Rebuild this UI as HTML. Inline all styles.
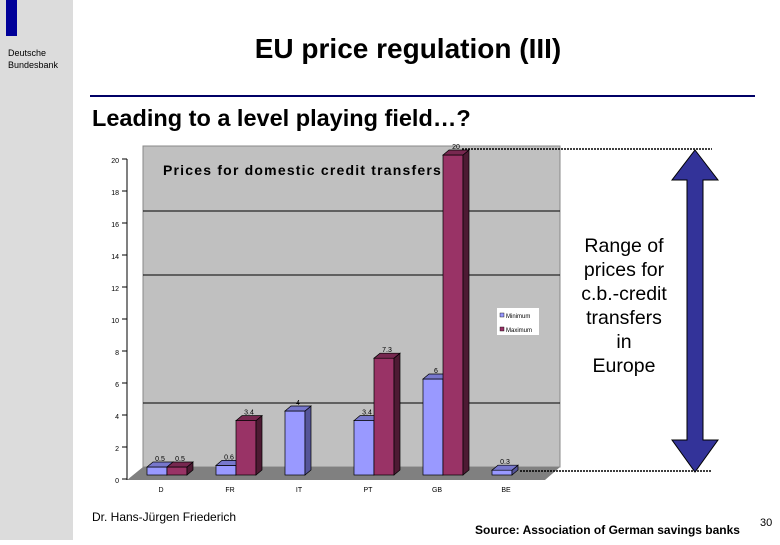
<!DOCTYPE html>
<html><head><meta charset="utf-8"><style>
body{margin:0;width:780px;height:540px;overflow:hidden;background:#fff;font-family:"Liberation Sans",sans-serif}
</style></head><body>
<svg width="780" height="540" viewBox="0 0 780 540" xmlns="http://www.w3.org/2000/svg" font-family="Liberation Sans, sans-serif">
<rect x="0" y="0" width="73" height="540" fill="#dcdcdc"/>
<rect x="6" y="0" width="11" height="36" fill="#000099"/>
<text font-size="9" fill="#000"><tspan x="8" y="56">Deutsche</tspan><tspan x="8" y="68">Bundesbank</tspan></text>
<text x="408" y="58" font-size="28" font-weight="bold" text-anchor="middle">EU price regulation (III)</text>
<line x1="90" y1="96" x2="755" y2="96" stroke="#000066" stroke-width="2"/>
<text x="92" y="126" font-size="23.5" font-weight="bold">Leading to a level playing field…?</text>
<g id="chart"></g>
<line x1="462" y1="149" x2="712" y2="149" stroke="#000" stroke-width="1.5" stroke-dasharray="2,1"/>
<line x1="520" y1="471" x2="712" y2="471" stroke="#000" stroke-width="1.5" stroke-dasharray="2,1"/>
<path d="M695,150 L718,180 L703,180 L703,440 L718,440 L695,472 L672,440 L687,440 L687,180 L672,180 Z" fill="#333399" stroke="#000" stroke-width="1"/>
<text font-size="19.5" text-anchor="middle"><tspan x="624" y="252">Range of</tspan><tspan x="624" y="276">prices for</tspan><tspan x="624" y="300">c.b.-credit</tspan><tspan x="624" y="324">transfers</tspan><tspan x="624" y="348">in</tspan><tspan x="624" y="372">Europe</tspan></text>
<text x="92" y="521" font-size="12">Dr. Hans-Jürgen Friederich</text>
<text x="475" y="534" font-size="12" font-weight="bold">Source: Association of German savings banks</text>
<text x="760" y="526" font-size="11">30</text>
</svg>
<script>
const categories=["D","FR","IT","PT","GB","BE"];
const minValues=[0.5,0.6,4,3.4,6,0.3];
const maxValues=[0.5,3.4,null,7.3,20,null];
const yTicks=[0,2,4,6,8,10,12,14,16,18,20];
const NS="http://www.w3.org/2000/svg";
const g=document.getElementById('chart');
const y0=475,ppu=16,x0=147,step=69,bw=20,dx=6,dy=5;
const y=v=>y0-v*ppu;
function el(t,a,p){const e=document.createElementNS(NS,t);for(const k in a)e.setAttribute(k,a[k]);(p||g).appendChild(e);return e;}
let e;
e=el('polygon',{points:"143,146 560,146 560,467 143,467",fill:"#c0c0c0",stroke:"#888"});

e=el('polygon',{points:"143,467 560,467 545,480 127,480",fill:"#808080"});

e=el('line',{x1:127,y1:159,x2:127,y2:480,stroke:"#000"});

[4,12,16].forEach(v=>{e=el('line',{x1:143,y1:y(v)-8,x2:560,y2:y(v)-8,stroke:"#000"});
});
yTicks.forEach(v=>{e=el('text',{x:119,y:y(v)+8,"font-size":7,"text-anchor":"end"});e.textContent=v;

e=el('line',{x1:122,y1:y(v)+4,x2:127,y2:y(v)+4,stroke:"#000"});
});
function bar(x,v,front,side,top,name){
 const t=y(v);
 e=el('rect',{x:x,y:t,width:bw,height:y0-t,fill:front,stroke:"#000","stroke-width":0.7});
 
 e=el('polygon',{points:`${x+bw},${t} ${x+bw+dx},${t-dy} ${x+bw+dx},${y0-dy} ${x+bw},${y0}`,fill:side,stroke:"#000","stroke-width":0.7});
 
 e=el('polygon',{points:`${x},${t} ${x+dx},${t-dy} ${x+bw+dx},${t-dy} ${x+bw},${t}`,fill:top,stroke:"#000","stroke-width":0.7});
 
 e=el('text',{x:x+bw/2+3,y:t-6,"font-size":7,"text-anchor":"middle"});e.textContent=v;
 
}
categories.forEach((c,i)=>{
 const x=x0+i*step;
 if(minValues[i]!=null)bar(x,minValues[i],"#9999ff","#555599","#7777cc",'bar-min-'+c.toLowerCase());
 if(maxValues[i]!=null)bar(x+bw,maxValues[i],"#993366","#4d1a33","#772850",'bar-max-'+c.toLowerCase());
 e=el('text',{x:x+bw-6,y:492,"font-size":7,"text-anchor":"middle"});e.textContent=c;
 
});
e=el('text',{x:163,y:175,"font-size":14,"font-weight":"bold","letter-spacing":"1.2"});e.textContent="Prices for domestic credit transfers";

e=el('rect',{x:497,y:308,width:42,height:27,fill:"#fff"});

e=el('rect',{x:500,y:313,width:4,height:4,fill:"#9999ff",stroke:"#000","stroke-width":0.4});

e=el('text',{x:506,y:318,"font-size":6});e.textContent="Minimum";

e=el('rect',{x:500,y:327,width:4,height:4,fill:"#993366",stroke:"#000","stroke-width":0.4});

e=el('text',{x:506,y:332,"font-size":6});e.textContent="Maximum";

</script>
</body></html>
